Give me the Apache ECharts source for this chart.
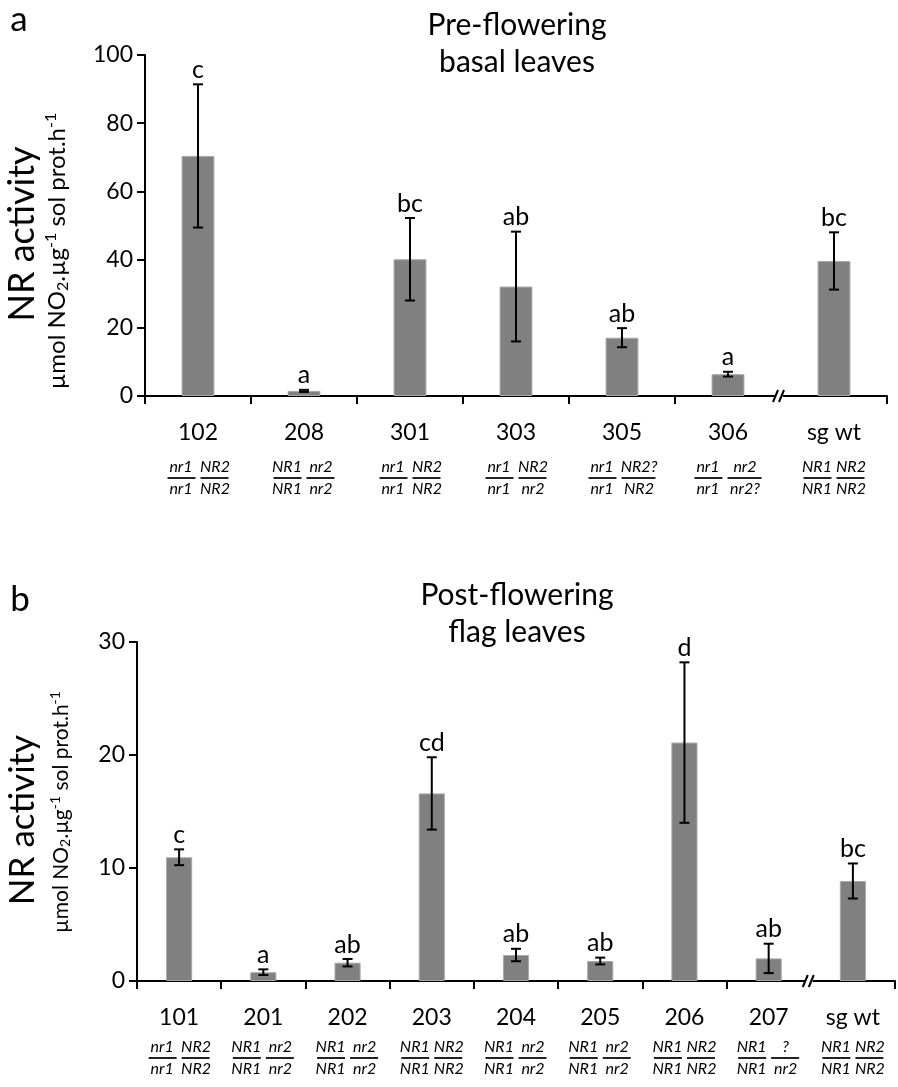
<!DOCTYPE html>
<html>
<head>
<meta charset="utf-8">
<script src="https://cdn.jsdelivr.net/npm/echarts@6/dist/echarts.min.js"></script>
<style>
  html, body { margin: 0; padding: 0; background: #fff; }
  #chart { width: 898px; height: 1087px; }
</style>
</head>
<body>
<div id="chart"></div>
<script>
// panel a - pre-flowering basal leaves
const linesA = ['102', '208', '301', '303', '305', '306', 'sg wt'];
const meanA = [70.4, 1.5, 40.1, 32.1, 17.1, 6.4, 39.6];
const errA = [21.0, 0.3, 12.1, 16.1, 2.8, 0.7, 8.4];
const lettersA = ['c', 'a', 'bc', 'ab', 'ab', 'a', 'bc'];
const genoTopA = ['nr1 NR2', 'NR1 nr2', 'nr1 NR2', 'nr1 NR2', 'nr1 NR2?', 'nr1 nr2', 'NR1 NR2'];
const genoBotA = ['nr1 NR2', 'NR1 nr2', 'nr1 NR2', 'nr1 nr2', 'nr1 NR2', 'nr1 nr2?', 'NR1 NR2'];
const ticksA = [0, 20, 40, 60, 80, 100];

// panel b - post-flowering flag leaves
const linesB = ['101', '201', '202', '203', '204', '205', '206', '207', 'sg wt'];
const meanB = [10.95, 0.78, 1.62, 16.6, 2.3, 1.77, 21.1, 2.0, 8.85];
const errB = [0.7, 0.25, 0.33, 3.2, 0.55, 0.3, 7.1, 1.3, 1.55];
const lettersB = ['c', 'a', 'ab', 'cd', 'ab', 'ab', 'd', 'ab', 'bc'];
const genoTopB = ['nr1 NR2', 'NR1 nr2', 'NR1 nr2', 'NR1 NR2', 'NR1 nr2', 'NR1 nr2', 'NR1 NR2', 'NR1 ?', 'NR1 NR2'];
const genoBotB = ['nr1 NR2', 'NR1 nr2', 'NR1 nr2', 'NR1 NR2', 'NR1 nr2', 'NR1 nr2', 'NR1 NR2', 'NR1 nr2', 'NR1 NR2'];
const ticksB = [0, 10, 20, 30];

const FONT = 'Lato';
const chart = echarts.init(document.getElementById('chart'));

// axis label: line number, then genotype as two little fractions
function genoLabel(name, top, bot, gap) {
  const t = top.split(' '), b = bot.split(' ');
  const key = i => Math.max(t[i].length, b[i].length) >= 4 ? 'b' : 'a';
  const row = arr => `{g${key(0)}|${arr[0]}}{sp| }{g${key(1)}|${arr[1]}}`;
  return `{num|${name}}\n{${gap}| }\n` + row(t) + `\n{l${key(0)}| }{sp| }{l${key(1)}| }\n` + row(b);
}

const richLabel = {
  num: {fontSize: 23, fontFamily: FONT, color: '#000', lineHeight: 24},
  gapA: {fontSize: 1, lineHeight: 15},
  gapB: {fontSize: 1, lineHeight: 10},
  ga: {fontSize: 16, fontFamily: FONT, fontStyle: 'italic', color: '#000', width: 29, align: 'center', lineHeight: 14},
  gb: {fontSize: 16, fontFamily: FONT, fontStyle: 'italic', color: '#000', width: 35, align: 'center', lineHeight: 14},
  la: {fontSize: 1, width: 28, height: 2, backgroundColor: '#222', align: 'center', lineHeight: 8},
  lb: {fontSize: 1, width: 34, height: 2, backgroundColor: '#222', align: 'center', lineHeight: 8},
  sp: {fontSize: 1, width: 5, align: 'center'}
};

function xAxisOf(gridIndex, cats, tops, bots, gap) {
  return {
    type: 'category',
    gridIndex: gridIndex,
    data: cats,
    boundaryGap: true,
    axisLine: {show: true, lineStyle: {color: '#000', width: 2}},
    axisTick: {
      show: true, inside: false, length: 8,
      lineStyle: {color: '#000', width: 2},
      // no tick where the axis is broken
      interval: (idx) => idx !== cats.length - 1
    },
    axisLabel: {
      interval: 0,
      margin: 25,
      formatter: (v, idx) => genoLabel(v, tops[idx], bots[idx], gap),
      rich: richLabel
    },
    splitLine: {show: false}
  };
}

function yAxisOf(gridIndex, ticks) {
  return {
    type: 'value',
    gridIndex: gridIndex,
    min: ticks[0],
    max: ticks[ticks.length - 1],
    interval: ticks[1] - ticks[0],
    axisLine: {show: true, lineStyle: {color: '#000', width: 2}},
    axisTick: {show: true, inside: false, length: 8, lineStyle: {color: '#000', width: 2}},
    axisLabel: {fontSize: 23, fontFamily: FONT, color: '#000', margin: 12},
    splitLine: {show: false}
  };
}

function barSeries(idx, vals) {
  return {
    type: 'bar',
    xAxisIndex: idx, yAxisIndex: idx,
    data: vals,
    barWidth: '31%',
    itemStyle: {color: '#808080', borderColor: '#a8a8a8', borderWidth: 1},
    silent: true
  };
}

function errSeries(idx, means, errs, letters) {
  return {
    type: 'custom',
    xAxisIndex: idx, yAxisIndex: idx,
    data: means.map((m, i) => [i, m, errs[i]]),
    silent: true,
    z: 5,
    renderItem: (params, api) => {
      const x = api.value(0), m = api.value(1), e = api.value(2);
      const top = api.coord([x, m + e]);
      const bot = api.coord([x, m - e]);
      const hw = 5;
      const st = {stroke: '#000', lineWidth: 2};
      return {
        type: 'group',
        children: [
          {type: 'line', shape: {x1: top[0], y1: top[1], x2: bot[0], y2: bot[1]}, style: st},
          {type: 'line', shape: {x1: top[0] - hw, y1: top[1], x2: top[0] + hw, y2: top[1]}, style: st},
          {type: 'line', shape: {x1: bot[0] - hw, y1: bot[1], x2: bot[0] + hw, y2: bot[1]}, style: st},
          {
            type: 'text', x: top[0], y: top[1] - 2,
            style: {text: letters[params.dataIndex], align: 'center', verticalAlign: 'bottom',
                    font: '25px ' + FONT, fill: '#000'}
          }
        ]
      };
    }
  };
}

function subRich(size) {
  const small = Math.round(size * 0.65);
  return {
    t: {fontSize: size, fontFamily: FONT, color: '#000'},
    sub: {fontSize: small, fontFamily: FONT, color: '#000', padding: [Math.round(size * 0.45), 0, 0, 0]},
    sup: {fontSize: small, fontFamily: FONT, color: '#000', padding: [0, 0, Math.round(size * 0.5), 0]}
  };
}
const subText = '{t|µmol NO}{sub|2}{t|.µg}{sup|-1}{t| sol prot.h}{sup|-1}';

function txt(x, y, text, size, rot) {
  return {
    type: 'text', x: x, y: y, rotation: rot || 0, silent: true,
    style: {text: text, font: size + 'px ' + FONT, fill: '#000', align: 'center', verticalAlign: 'middle'}
  };
}

function subTxt(x, y, size) {
  return {
    type: 'text', x: x, y: y, rotation: Math.PI / 2, silent: true,
    style: {text: subText, rich: subRich(size), align: 'center', verticalAlign: 'middle', fill: '#000'}
  };
}

const baseGraphic = [
  txt(19, 20, 'a', 35),
  txt(517, 25, 'Pre-flowering', 30),
  txt(517, 62, 'basal leaves', 30),
  txt(22, 234, 'NR activity', 36, Math.PI / 2),
  subTxt(57, 251, 24),
  txt(20, 600, 'b', 35),
  txt(517, 595, 'Post-flowering', 30),
  txt(517, 632, 'flag leaves', 30),
  txt(23, 820, 'NR activity', 35, Math.PI / 2),
  subTxt(61, 812, 21)
];

chart.setOption({
  animation: false,
  backgroundColor: '#fff',
  grid: [
    {left: 145, top: 55, width: 742, height: 341, containLabel: false, outerBoundsMode: 'none'},
    {left: 137, top: 642, width: 758, height: 339, containLabel: false, outerBoundsMode: 'none'}
  ],
  xAxis: [
    xAxisOf(0, linesA, genoTopA, genoBotA, 'gapA'),
    xAxisOf(1, linesB, genoTopB, genoBotB, 'gapB')
  ],
  yAxis: [yAxisOf(0, ticksA), yAxisOf(1, ticksB)],
  series: [
    barSeries(0, meanA), errSeries(0, meanA, errA, lettersA),
    barSeries(1, meanB), errSeries(1, meanB, errB, lettersB)
  ],
  graphic: baseGraphic
});

// axis break marks "//" between the last two categories
function breakMarks(idx, cats) {
  const n = cats.length;
  const p1 = chart.convertToPixel({gridIndex: idx}, [n - 2, 0]);
  const p2 = chart.convertToPixel({gridIndex: idx}, [n - 1, 0]);
  const bx = (p1[0] + p2[0]) / 2;
  const y = p1[1];
  const st = {stroke: '#000', lineWidth: 2};
  return [
    {type: 'rect', silent: true, z: 100, shape: {x: bx - 5, y: y - 3, width: 7, height: 6}, style: {fill: '#fff'}},
    {type: 'line', silent: true, z: 101, shape: {x1: bx - 8, y1: y + 6, x2: bx - 3, y2: y - 6}, style: st},
    {type: 'line', silent: true, z: 101, shape: {x1: bx - 2, y1: y + 6, x2: bx + 3, y2: y - 6}, style: st}
  ];
}

chart.setOption({
  graphic: baseGraphic.concat(breakMarks(0, linesA), breakMarks(1, linesB))
});
</script>
</body>
</html>
